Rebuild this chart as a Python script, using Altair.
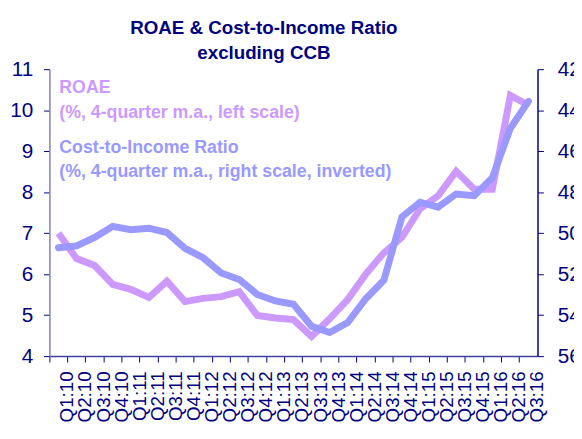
import altair as alt
import pandas as pd

quarters = ["Q1:10", "Q2:10", "Q3:10", "Q4:10",
            "Q1:11", "Q2:11", "Q3:11", "Q4:11",
            "Q1:12", "Q2:12", "Q3:12", "Q4:12",
            "Q1:13", "Q2:13", "Q3:13", "Q4:13",
            "Q1:14", "Q2:14", "Q3:14", "Q4:14",
            "Q1:15", "Q2:15", "Q3:15", "Q4:15",
            "Q1:16", "Q2:16", "Q3:16"]
roae = [7.00, 6.38, 6.21, 5.75, 5.63, 5.43, 5.83, 5.33, 5.41,
        5.45, 5.57, 4.99, 4.93, 4.89, 4.48, 4.91, 5.38, 6.00,
        6.52, 6.90, 7.59, 7.91, 8.51, 8.07, 8.07, 10.36, 10.12]
cir = [50.71, 50.62, 50.21, 49.67, 49.83, 49.76, 49.97, 50.74, 51.20,
       51.94, 52.26, 52.99, 53.31, 53.47, 54.54, 54.85, 54.36, 53.20,
       52.30, 49.21, 48.49, 48.73, 48.09, 48.17, 47.29, 44.88, 43.57]
roae_label = "ROAE\n(%, 4-quarter m.a., left scale)"
cir_label = "Cost-to-Income Ratio\n(%, 4-quarter m.a., right scale, inverted)"

df = pd.DataFrame({"quarter": quarters, "roae": roae, "cir": cir})

NAVY = "#000080"
PINK = "#CC99FF"
BLUE = "#9999FF"
FONT = "Liberation Sans"

x_enc = alt.X(
    "quarter:N", sort=quarters,
    scale=alt.Scale(type="band", paddingInner=0, paddingOuter=0),
    axis=alt.Axis(title=None, labelAngle=-90, bandPosition=0, labelOffset=9.17,
                  labelFont=FONT, labelFontSize=19, labelColor=NAVY,
                  labelPadding=9, tickSize=6, tickColor=NAVY,
                  domainColor="#4040A0", domainWidth=1.5, grid=False,
                  labelOverlap=False),
)

base = alt.Chart(df)

roae_line = base.mark_line(color=PINK, strokeWidth=7).encode(
    x=x_enc,
    y=alt.Y("roae:Q", scale=alt.Scale(domain=[4, 11], nice=False, zero=False),
            axis=alt.Axis(title=None, orient="left", values=list(range(4, 12)),
                          labelFont=FONT, labelFontSize=21, labelColor=NAVY,
                          labelPadding=11, tickSize=6, tickColor=NAVY,
                          domainColor="#8080C0", domainWidth=1.5, grid=False)),
)

cir_line = base.mark_line(color=BLUE, strokeWidth=7, strokeCap="round").encode(
    x=x_enc,
    y=alt.Y("cir:Q", scale=alt.Scale(domain=[42, 56], reverse=True, nice=False, zero=False),
            axis=alt.Axis(title=None, orient="right", values=list(range(42, 57, 2)),
                          labelFont=FONT, labelFontSize=21, labelColor=NAVY,
                          labelPadding=14, tickSize=6, tickColor=NAVY,
                          domainColor=NAVY, domainWidth=1.5, grid=False)),
)

roae_text = alt.Chart(pd.DataFrame({"t": [roae_label]})).mark_text(
    align="left", baseline="alphabetic", font=FONT, fontSize=18, fontWeight="bold",
    color=PINK, lineBreak="\n", lineHeight=25,
).encode(text="t:N", x=alt.value(10), y=alt.value(24.5))

cir_text = alt.Chart(pd.DataFrame({"t": [cir_label]})).mark_text(
    align="left", baseline="alphabetic", font=FONT, fontSize=18, fontWeight="bold",
    color=BLUE, lineBreak="\n", lineHeight=24,
).encode(text="t:N", x=alt.value(10), y=alt.value(85))

chart = alt.layer(roae_line, cir_line, roae_text, cir_text).resolve_scale(
    y="independent"
).properties(
    width=495, height=291,
    autosize=alt.AutoSizeParams(type="none"),
    padding={"left": 42, "top": 59, "right": 37, "bottom": 80},
    title=alt.TitleParams(
        text="ROAE & Cost-to-Income Ratio", subtitle="excluding CCB",
        font=FONT, fontSize=19, fontWeight="bold", color=NAVY,
        subtitleFont=FONT, subtitleFontSize=19, subtitleFontWeight="bold",
        subtitleColor=NAVY, anchor="middle", dx=-30, offset=-4.5, subtitlePadding=6.5,
    ),
).configure_view(stroke=None)

chart.save("out.html", embed_options={"renderer": "svg", "actions": False})
